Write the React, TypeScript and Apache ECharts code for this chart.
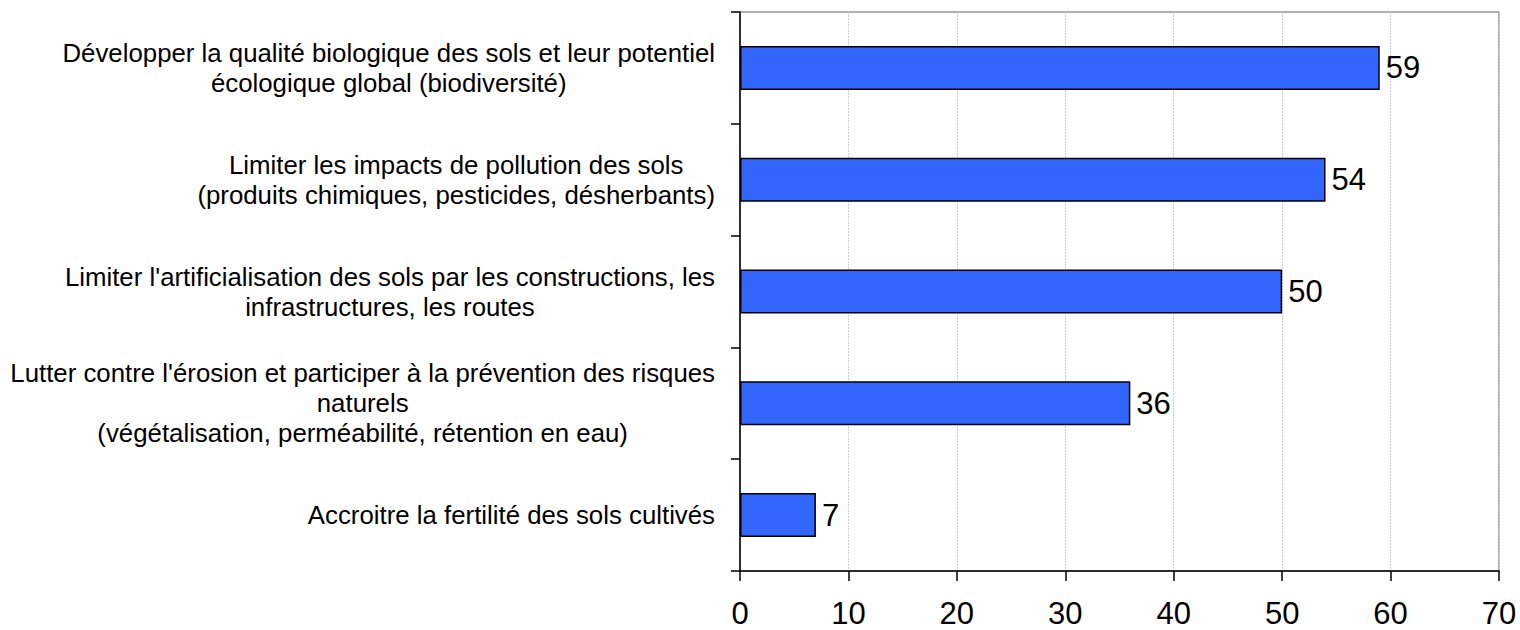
import React, { useEffect, useRef } from "react";
import * as echarts from "echarts";

const categories: string[][] = [
  ["Développer la qualité biologique des sols et leur potentiel", "écologique global (biodiversité)"],
  ["Limiter les impacts de pollution des sols", "(produits chimiques, pesticides, désherbants)"],
  ["Limiter l'artificialisation des sols par les constructions, les", "infrastructures, les routes"],
  ["Lutter contre l'érosion et participer à la prévention des risques", "naturels", "(végétalisation, perméabilité, rétention en eau)"],
  ["Accroitre la fertilité des sols cultivés"],
];
const values: number[] = [59, 54, 50, 36, 7];
const xTicks = { min: 0, max: 70, interval: 10 };

export default function App() {
  const ref = useRef<HTMLDivElement>(null);
  useEffect(() => {
    if (!ref.current) return;
    const chart = echarts.init(ref.current, null, { renderer: "svg" });
    const font = "'Liberation Sans', Arial, sans-serif";
    chart.setOption({
      animation: false,
      backgroundColor: "#ffffff",
      grid: {
        left: 740,
        right: 21,
        top: 12,
        bottom: 59,
        show: true,
        borderColor: "#999999",
        borderWidth: 1.5,
        backgroundColor: "transparent",
      },
      xAxis: {
        type: "value",
        min: xTicks.min,
        max: xTicks.max,
        interval: xTicks.interval,
        axisLine: { show: true, lineStyle: { color: "#000", width: 1.5 } },
        axisTick: { show: true, inside: false, length: 10, lineStyle: { color: "#000", width: 1.5 } },
        axisLabel: { fontSize: 31, color: "#000", fontFamily: font, margin: 27 },
        splitLine: { show: true, lineStyle: { color: "#cfcfcf", type: [2, 1], width: 1 } },
      },
      yAxis: {
        type: "category",
        inverse: true,
        data: categories.map((c) => c.map((l) => `{c|${l}}`).join("\n")),
        axisLine: { show: true, lineStyle: { color: "#000", width: 1.5 } },
        axisTick: { show: true, inside: false, length: 9, lineStyle: { color: "#000", width: 1.5 } },
        axisLabel: {
          fontSize: 25.8,
          color: "#000",
          fontFamily: font,
          margin: 25,
          align: "right",
          lineHeight: 30,
          rich: {
            c: { align: "center", fontSize: 25.8, lineHeight: 30, fontFamily: font, color: "#000" },
          },
        },
        splitLine: { show: false },
      },
      series: [
        {
          type: "bar",
          data: values,
          barWidth: 44,
          itemStyle: { color: "#3366FF", borderColor: "#000", borderWidth: 1.5 },
          label: {
            show: true,
            position: "right",
            distance: 6,
            fontSize: 31,
            color: "#000",
            fontFamily: font,
          },
        },
      ],
    });
    return () => chart.dispose();
  }, []);
  return (
    <div
      ref={ref}
      style={{ position: "fixed", left: 0, top: 0, width: 1520, height: 630, background: "#fff" }}
    />
  );
}
